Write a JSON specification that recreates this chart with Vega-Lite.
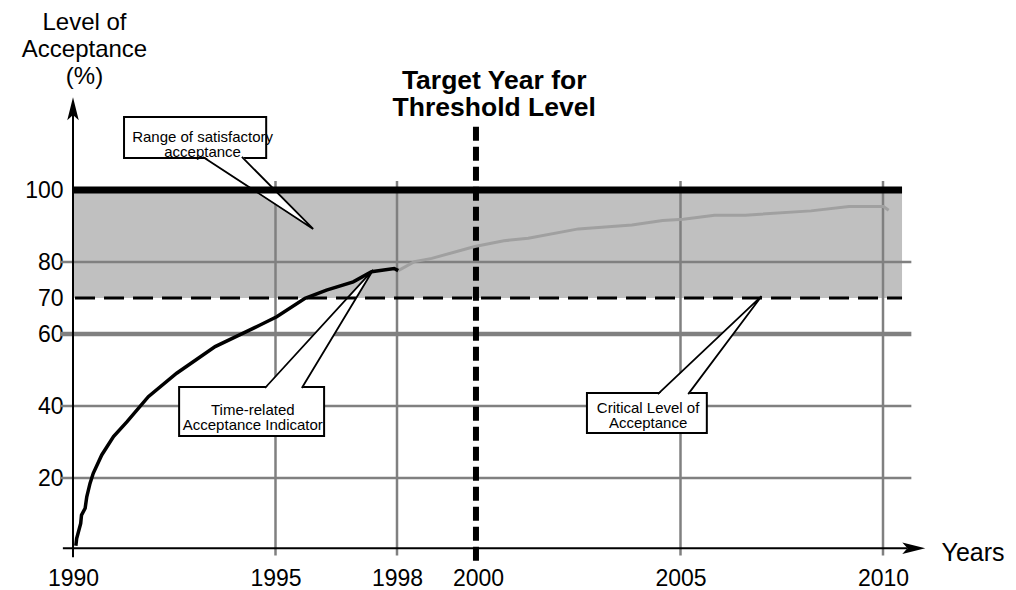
{
  "$schema": "https://vega.github.io/schema/vega-lite/v6.json",
  "width": 850.5,
  "height": 450,
  "autosize": {"type": "none"},
  "padding": {"left": 73, "top": 100, "right": 92.5, "bottom": 40},
  "background": "white",
  "config": {"font": "Liberation Sans", "view": {"stroke": null}},
  "datasets": {
    "band": [{"x": 1990, "x2": 2010.47, "y": 70, "y2": 100}],
    "hgrid": [
      {"x": 1989.68, "x2": 2010.7, "y": 20},
      {"x": 1989.68, "x2": 2010.7, "y": 40},
      {"x": 1989.68, "x2": 2010.7, "y": 80}
    ],
    "hgrid60": [{"x": 1989.68, "x2": 2010.7, "y": 60}],
    "vgrid": [
      {"x": 1995, "y": -1.5, "y2": 102.5},
      {"x": 1998, "y": -1.5, "y2": 102.5},
      {"x": 2005, "y": -1.5, "y2": 102.5},
      {"x": 2010, "y": -1.5, "y2": 102.5}
    ],
    "boxes": [
      {"x": 1991.26, "x2": 1994.77, "y": 108.9, "y2": 120.3},
      {"x": 1992.62, "x2": 1996.2, "y": 31.67, "y2": 45.28},
      {"x": 2002.69, "x2": 2005.65, "y": 32.5, "y2": 43.6}
    ],
    "pointerFill": [
      {"c": "a", "x": 1993.21, "y": 109.5, "y2": 109.5},
      {"c": "a", "x": 1994.17, "y": 102.32, "y2": 109.5},
      {"c": "a", "x": 1995.93, "y": 89.17, "y2": 89.17},
      {"c": "b", "x": 1994.74, "y": 44.7, "y2": 44.7},
      {"c": "b", "x": 1995.65, "y": 44.7, "y2": 55.98},
      {"c": "b", "x": 1997.41, "y": 77.8, "y2": 77.8},
      {"c": "c", "x": 2004.44, "y": 43.0, "y2": 43.0},
      {"c": "c", "x": 2005.19, "y": 43.0, "y2": 51.06},
      {"c": "c", "x": 2007.0, "y": 70.5, "y2": 70.5}
    ],
    "pointers": [
      {"c": "a", "o": 1, "x": 1993.21, "y": 109.2},
      {"c": "a", "o": 2, "x": 1995.93, "y": 89.17},
      {"c": "a", "o": 3, "x": 1994.17, "y": 109.2},
      {"c": "b", "o": 1, "x": 1994.74, "y": 45.0},
      {"c": "b", "o": 2, "x": 1997.41, "y": 77.8},
      {"c": "b", "o": 3, "x": 1995.65, "y": 45.0},
      {"c": "c", "o": 1, "x": 2004.44, "y": 43.3},
      {"c": "c", "o": 2, "x": 2007.0, "y": 70.5},
      {"c": "c", "o": 3, "x": 2005.19, "y": 43.3}
    ],
    "top100": [{"x": 1990, "x2": 2010.47, "y": 100}],
    "crit70": [{"x": 1990.05, "x2": 2010.47, "y": 70}],
    "target": [{"x": 1999.95, "y": -3, "y2": 118}],
    "projected": [
      {"x": 1998.03, "y": 77.6},
      {"x": 1998.43, "y": 80.1},
      {"x": 1998.86, "y": 81.0},
      {"x": 1999.92, "y": 84.3},
      {"x": 2000.64, "y": 85.9},
      {"x": 2001.24, "y": 86.6},
      {"x": 2002.48, "y": 89.2},
      {"x": 2003.8, "y": 90.3},
      {"x": 2004.56, "y": 91.5},
      {"x": 2005.07, "y": 91.9},
      {"x": 2005.84, "y": 93.0},
      {"x": 2006.6, "y": 93.0},
      {"x": 2008.22, "y": 94.2},
      {"x": 2009.16, "y": 95.4},
      {"x": 2010.01, "y": 95.4},
      {"x": 2010.14, "y": 94.4}
    ],
    "actual": [
      {"x": 1990.07, "y": 1.2},
      {"x": 1990.09, "y": 3.2},
      {"x": 1990.19, "y": 7.4},
      {"x": 1990.21, "y": 9.7},
      {"x": 1990.3, "y": 11.6},
      {"x": 1990.34, "y": 14.8},
      {"x": 1990.42, "y": 18.5},
      {"x": 1990.5, "y": 21.3},
      {"x": 1990.71, "y": 26.4},
      {"x": 1991.0, "y": 31.5},
      {"x": 1991.33, "y": 35.6},
      {"x": 1991.86, "y": 42.6},
      {"x": 1992.56, "y": 49.1},
      {"x": 1993.51, "y": 56.5},
      {"x": 1994.62, "y": 62.5},
      {"x": 1995.03, "y": 64.8},
      {"x": 1995.73, "y": 69.9},
      {"x": 1996.26, "y": 72.2},
      {"x": 1996.92, "y": 74.5},
      {"x": 1997.37, "y": 77.3},
      {"x": 1997.93, "y": 78.2},
      {"x": 1998.03, "y": 77.6}
    ],
    "xaxis": [{"x": 1989.75, "x2": 2010.6, "y": 0.5}],
    "yaxis": [{"x": 1990, "y": -2, "y2": 121}],
    "arrowY": [{"x": 1990, "y": 122.6}],
    "arrowX": [{"x": 2010.76, "y": 0.5}],
    "notes": [
      {"t": "Range of satisfactory", "x": 1993.2, "y": 114.6},
      {"t": "acceptance", "x": 1993.2, "y": 110.5},
      {"t": "Time-related", "x": 1994.44, "y": 39.0},
      {"t": "Acceptance Indicator", "x": 1994.44, "y": 34.7},
      {"t": "Critical Level of", "x": 2004.2, "y": 39.5},
      {"t": "Acceptance", "x": 2004.2, "y": 35.2}
    ],
    "heading": [
      {"t": "Target Year for", "x": 2000.4, "y": 130.3},
      {"t": "Threshold Level", "x": 2000.4, "y": 122.8}
    ]
  },
  "encoding": {
    "x": {
      "field": "x",
      "type": "quantitative",
      "scale": {"domain": [1990, 2011], "nice": false, "zero": false},
      "axis": {
        "title": "Years",
        "values": [1990, 1995, 1998, 2000, 2005, 2010],
        "format": "d",
        "domain": false,
        "ticks": false,
        "tickSize": 0,
        "grid": false,
        "labelFontSize": 23,
        "labelColor": "black",
        "labelPadding": 28,
        "labelBaseline": "middle",
        "labelFlush": false,
        "labelOverlap": false,
        "titleFontSize": 25,
        "titleFontWeight": "normal",
        "titleColor": "black",
        "titleX": 868,
        "titleY": 2,
        "titleAlign": "left",
        "titleBaseline": "middle"
      }
    },
    "y": {
      "field": "y",
      "type": "quantitative",
      "scale": {"domain": [0, 125], "nice": false, "zero": false},
      "axis": {
        "title": ["Level of", "Acceptance", "(%)"],
        "values": [20, 40, 60, 70, 80, 100],
        "domain": false,
        "ticks": false,
        "tickSize": 0,
        "grid": false,
        "labelFontSize": 23,
        "labelColor": "black",
        "labelPadding": 10,
        "labelOverlap": false,
        "titleFontSize": 24,
        "titleFontWeight": "normal",
        "titleColor": "black",
        "titleAngle": 0,
        "titleX": 11,
        "titleY": -78,
        "titleAlign": "center",
        "titleBaseline": "middle",
        "titleLineHeight": 27
      }
    }
  },
  "layer": [
    {
      "data": {"name": "band"},
      "mark": {"type": "rect", "color": "#c0c0c0"},
      "encoding": {"x2": {"field": "x2"}, "y2": {"field": "y2"}}
    },
    {
      "data": {"name": "hgrid"},
      "mark": {"type": "rule", "color": "#808080", "strokeWidth": 2.5},
      "encoding": {"x2": {"field": "x2"}}
    },
    {
      "data": {"name": "hgrid60"},
      "mark": {"type": "rule", "color": "#808080", "strokeWidth": 4.5},
      "encoding": {"x2": {"field": "x2"}}
    },
    {
      "data": {"name": "vgrid"},
      "mark": {"type": "rule", "color": "#808080", "strokeWidth": 2.5},
      "encoding": {"y2": {"field": "y2"}}
    },
    {
      "data": {"name": "boxes"},
      "mark": {"type": "rect", "fill": "white", "stroke": "black", "strokeWidth": 2},
      "encoding": {"x2": {"field": "x2"}, "y2": {"field": "y2"}}
    },
    {
      "data": {"name": "pointerFill"},
      "mark": {"type": "area", "color": "white", "opacity": 1},
      "encoding": {"y2": {"field": "y2"}, "detail": {"field": "c"}}
    },
    {
      "data": {"name": "pointers"},
      "mark": {"type": "line", "stroke": "black", "strokeWidth": 1.8, "strokeJoin": "miter"},
      "encoding": {"detail": {"field": "c"}, "order": {"field": "o"}}
    },
    {
      "data": {"name": "top100"},
      "mark": {"type": "rule", "color": "black", "strokeWidth": 7},
      "encoding": {"x2": {"field": "x2"}}
    },
    {
      "data": {"name": "crit70"},
      "mark": {"type": "rule", "color": "black", "strokeWidth": 3, "strokeDash": [20, 9]},
      "encoding": {"x2": {"field": "x2"}}
    },
    {
      "data": {"name": "target"},
      "mark": {"type": "rule", "color": "black", "strokeWidth": 6, "strokeDash": [14, 6]},
      "encoding": {"y2": {"field": "y2"}}
    },
    {
      "data": {"name": "projected"},
      "mark": {"type": "line", "color": "#a0a0a0", "strokeWidth": 3},
      "encoding": {}
    },
    {
      "data": {"name": "actual"},
      "mark": {"type": "line", "color": "black", "strokeWidth": 3.5},
      "encoding": {}
    },
    {
      "data": {"name": "xaxis"},
      "mark": {"type": "rule", "color": "black", "strokeWidth": 2},
      "encoding": {"x2": {"field": "x2"}}
    },
    {
      "data": {"name": "yaxis"},
      "mark": {"type": "rule", "color": "black", "strokeWidth": 2},
      "encoding": {"y2": {"field": "y2"}}
    },
    {
      "data": {"name": "arrowY"},
      "mark": {"type": "point", "filled": true, "color": "black", "opacity": 1, "strokeWidth": 0, "size": 529, "shape": "M0,-1L0.5,1L0,0.55L-0.5,1Z"}
    },
    {
      "data": {"name": "arrowX"},
      "mark": {"type": "point", "filled": true, "color": "black", "opacity": 1, "strokeWidth": 0, "size": 529, "shape": "M1,0L-1,0.5L-0.55,0L-1,-0.5Z"}
    },
    {
      "data": {"name": "notes"},
      "mark": {"type": "text", "fontSize": 15, "color": "black", "align": "center", "baseline": "middle"},
      "encoding": {"text": {"field": "t"}}
    },
    {
      "data": {"name": "heading"},
      "mark": {"type": "text", "fontSize": 26.5, "fontWeight": "bold", "color": "black", "align": "center", "baseline": "middle"},
      "encoding": {"text": {"field": "t"}}
    }
  ]
}
